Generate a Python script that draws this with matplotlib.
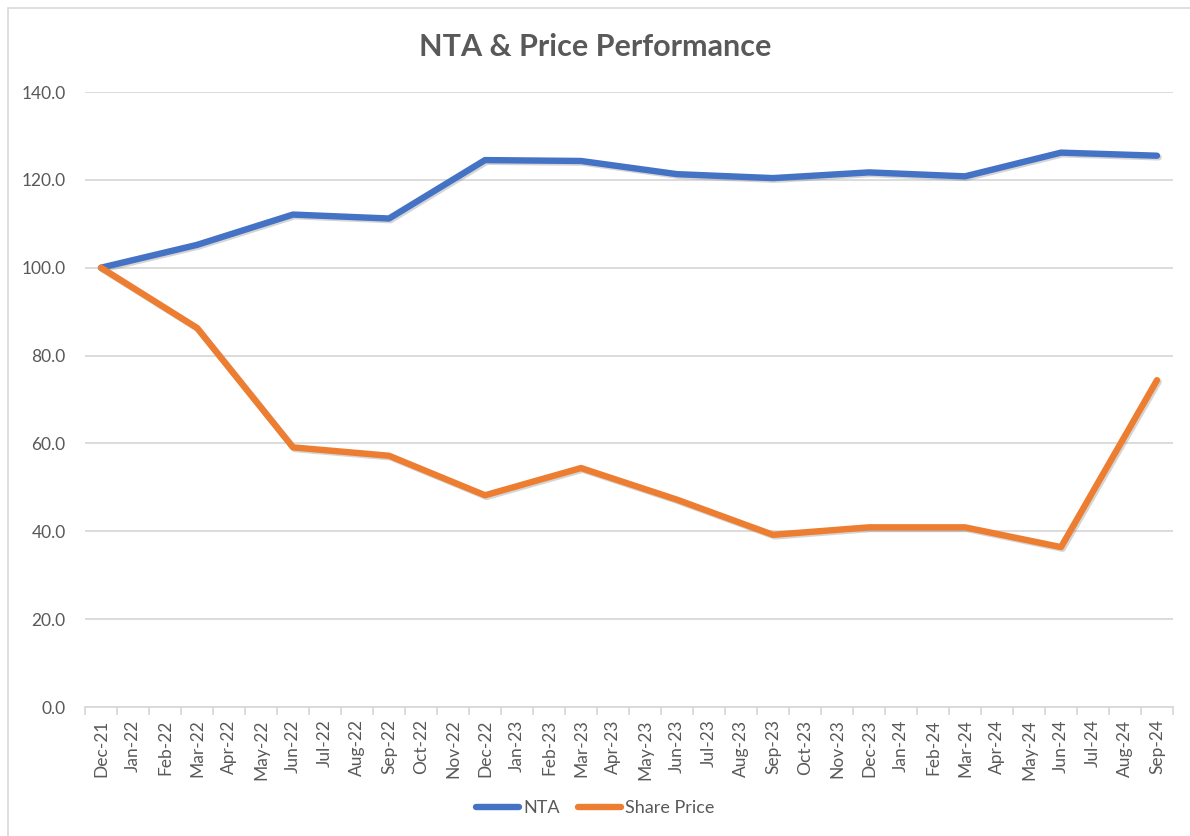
import matplotlib

matplotlib.use("Agg")
import matplotlib.pyplot as plt
import matplotlib.patheffects as pe
from matplotlib.patches import Rectangle

plt.rcParams["font.family"] = ["Lato", "DejaVu Sans"]

months = [
    "Dec-21", "Jan-22", "Feb-22", "Mar-22", "Apr-22", "May-22", "Jun-22", "Jul-22",
    "Aug-22", "Sep-22", "Oct-22", "Nov-22", "Dec-22", "Jan-23", "Feb-23", "Mar-23",
    "Apr-23", "May-23", "Jun-23", "Jul-23", "Aug-23", "Sep-23", "Oct-23", "Nov-23",
    "Dec-23", "Jan-24", "Feb-24", "Mar-24", "Apr-24", "May-24", "Jun-24", "Jul-24",
    "Aug-24", "Sep-24",
]
# quarter-end observations
obs_months = ["Dec-21", "Mar-22", "Jun-22", "Sep-22", "Dec-22", "Mar-23",
              "Jun-23", "Sep-23", "Dec-23", "Mar-24", "Jun-24", "Sep-24"]
nta = [100.0, 105.2, 112.1, 111.2, 124.5, 124.3, 121.3, 120.4, 121.7, 120.8, 126.2, 125.5]
share_price = [100.0, 86.3, 59.1, 57.2, 48.2, 54.4, 47.2, 39.2, 40.9, 40.9, 36.4, 74.4]

GREY = "#595959"
GRID = "#D9D9D9"

fig = plt.figure(figsize=(11.9, 8.36), dpi=100)
W, H = 1190, 836
ax = fig.add_axes([85 / W, 1 - 707 / H, (1173 - 85) / W, (707 - 92) / H])

# outer chart frame
fig.patches.append(Rectangle((8 / W, -0.05), 1.2, 1 - 8 / H + 0.05, transform=fig.transFigure,
                             fill=False, edgecolor=GRID, linewidth=1.2))

xs = [months.index(m) for m in obs_months]
shadow = [pe.SimpleLineShadow(offset=(1.2, -1.2), shadow_color="#888888", alpha=0.35), pe.Normal()]
ax.plot(xs, nta, color="#4472C4", lw=4.6, solid_capstyle="round", solid_joinstyle="round",
        label="NTA", path_effects=shadow, zorder=3)
ax.plot(xs, share_price, color="#ED7D31", lw=4.6, solid_capstyle="round", solid_joinstyle="round",
        label="Share Price", path_effects=shadow, zorder=3)

ax.set_xlim(-0.5, len(months) - 0.5)
ax.set_ylim(0, 140)
ax.set_yticks(range(0, 141, 20))
ax.set_yticklabels([f"{v:.1f}" for v in range(0, 141, 20)], color=GREY, fontsize=12.5)
ax.yaxis.grid(True, color=GRID, lw=1.3)
ax.set_axisbelow(True)
ax.tick_params(axis="y", length=0, pad=14)

ax.set_xticks(range(len(months)))
ax.set_xticklabels(months, rotation=90, color=GREY, fontsize=12.5)
ax.set_xticks([i - 0.5 for i in range(len(months) + 1)], minor=True)
ax.tick_params(axis="x", which="major", length=0, pad=9)
ax.tick_params(axis="x", which="minor", length=6, color=GRID, width=1.3)

for s in ["top", "right", "left"]:
    ax.spines[s].set_visible(False)
ax.spines["bottom"].set_color(GRID)
ax.spines["bottom"].set_linewidth(1.3)

fig.text(0.5, 1 - 47 / H, "NTA & Price Performance", ha="center", va="center",
         fontsize=22, fontweight="bold", color=GREY)

leg = fig.legend(loc="center", bbox_to_anchor=(0.5, 1 - 808 / H), ncol=2, frameon=False,
                 fontsize=13, handlelength=2.4, columnspacing=1.0, handletextpad=0.2)
for t in leg.get_texts():
    t.set_color(GREY)
for h in leg.legend_handles:
    h.set_path_effects([])

fig.savefig("out.png", dpi=100)
